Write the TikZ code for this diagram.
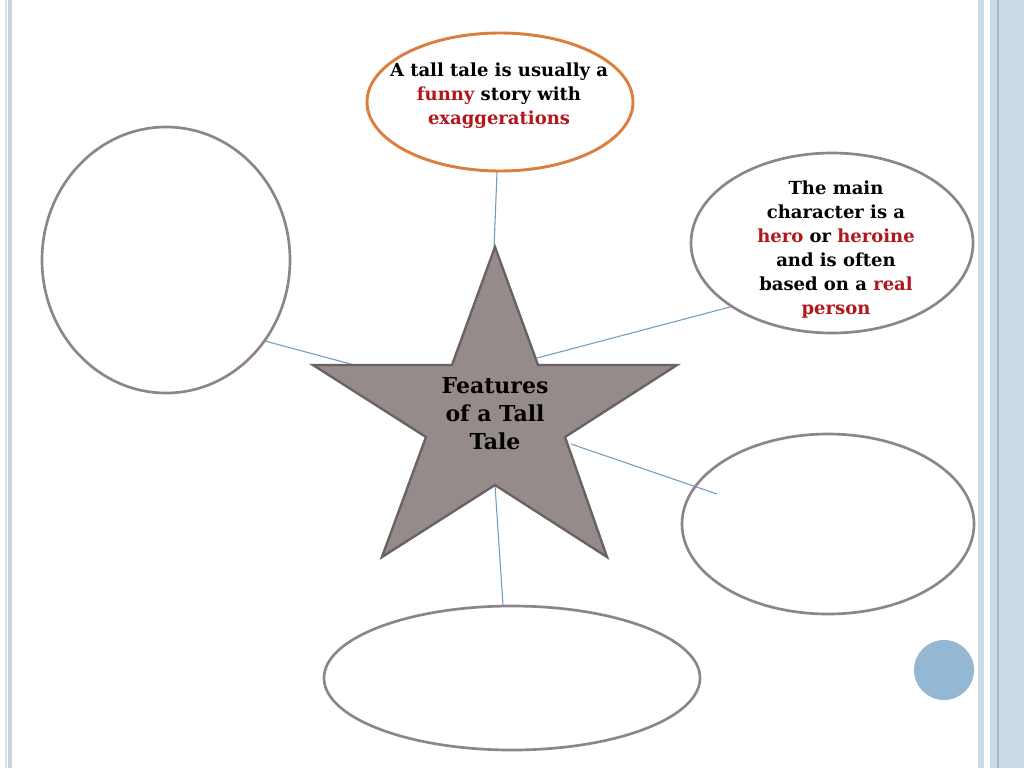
\documentclass[tikz,border=0pt]{standalone}
\usepackage{fontspec}
\setmainfont{DejaVu Serif}
\begin{document}
\begin{tikzpicture}[x=0.75pt,y=-0.75pt,
  link/.style={draw=linkblue,line width=0.8pt},
  lbl/.style={align=center,font=\bfseries\fontsize{13.5}{18}\selectfont,text=black},
  starlbl/.style={align=center,font=\bfseries\fontsize{16.5}{21}\selectfont,text=black}]
\definecolor{bubblegray}{HTML}{8F8587}
\definecolor{orangeline}{HTML}{DC7E3E}
\definecolor{linkblue}{HTML}{6F9CC2}
\definecolor{starfill}{HTML}{958B8A}
\definecolor{starline}{HTML}{6A6364}
\definecolor{redtxt}{HTML}{B3161B}
\definecolor{barblue}{HTML}{CCD9E6}
\definecolor{bardark}{HTML}{A8B8CA}
\definecolor{dotblue}{HTML}{94B7D4}
\useasboundingbox (0,0) rectangle (1024,768);
\fill[white] (0,0) rectangle (1024,768);
% left frame lines
\fill[barblue!70] (5,0) rectangle (7,768);
\fill[barblue!110] (8,0) rectangle (12,768);
% right frame bars
\fill[barblue] (978,0) rectangle (984,768);
\fill[barblue] (990,0) rectangle (1024,768);
\draw[bardark,line width=0.8pt] (998,0) -- (998,768);
% star
\coordinate (s1) at (495,247);
\coordinate (s2) at (538,365);
\coordinate (s3) at (677,365);
\coordinate (s4) at (565,437);
\coordinate (s5) at (607,557);
\coordinate (s6) at (495,485);
\coordinate (s7) at (382,557);
\coordinate (s8) at (426,437);
\coordinate (s9) at (313,365);
\coordinate (s10) at (452,365);
% connectors (drawn first)
\coordinate (ctop) at (497,172);
\coordinate (ctopb) at (494,249);
\coordinate (cru) at (730,307);
\coordinate (crus) at (537,358);
\coordinate (cl) at (265,341);
\coordinate (cls) at (358,366);
\coordinate (crl) at (717,494);
\coordinate (crls) at (571,444);
\coordinate (cb) at (503,605);
\coordinate (cbs) at (495,485);
\draw[link] (ctop) -- (ctopb);
\draw[link] (cru) -- (crus);
\draw[link] (cl) -- (cls);
\draw[link] (crl) -- (crls);
\draw[link] (cb) -- (cbs);
\filldraw[fill=starfill,draw=starline,line width=1.8pt,line join=miter]
  (s1) -- (s2) -- (s3) -- (s4) -- (s5) -- (s6) -- (s7) -- (s8) -- (s9) -- (s10) -- cycle;
\node[starlbl] (star) at (495,414) {Features\\of a Tall\\Tale};
% ellipses
\draw[draw=orangeline,line width=2.2pt] (500,102) ellipse [x radius=133, y radius=69];
\node[lbl] (top) at (499,96) {A tall tale is usually a\\\textcolor{redtxt}{funny} story with\\\textcolor{redtxt}{exaggerations}};
\draw[draw=bubblegray,line width=2pt] (832,243) ellipse [x radius=141, y radius=90];
\node[lbl] (hero) at (836,250) {The main\\character is a\\\textcolor{redtxt}{hero} or \textcolor{redtxt}{heroine}\\and is often\\based on a \textcolor{redtxt}{real}\\\textcolor{redtxt}{person}};
\draw[draw=bubblegray,line width=2pt] (166,260) ellipse [x radius=124, y radius=133];
\draw[draw=bubblegray,line width=2pt] (828,524) ellipse [x radius=146, y radius=90];
\draw[draw=bubblegray,line width=2pt] (512,678) ellipse [x radius=188, y radius=72];
% dot
\fill[dotblue] (944,670) circle [radius=30];
\end{tikzpicture}
\end{document}
